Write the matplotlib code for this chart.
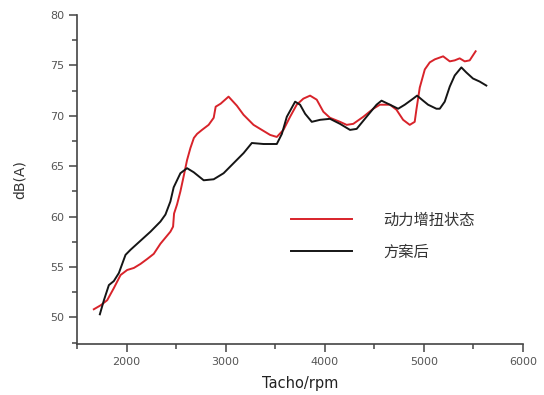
import matplotlib
matplotlib.use("Agg")
import matplotlib.pyplot as plt
from matplotlib.ticker import MultipleLocator

plt.rcParams['font.family'] = ['DejaVu Sans', 'Noto Sans CJK SC']

# Engine speed (rpm) and interior noise level dB(A)
rpm_boost = [1670, 1740, 1805, 1872, 1940, 2007, 2074, 2141, 2210, 2275, 2342, 2443,
             2470, 2480, 2510, 2544, 2577, 2611, 2645, 2680, 2712, 2762, 2829, 2880,
             2900, 2950, 3030, 3114, 3181, 3282, 3349, 3450, 3517, 3584, 3651, 3718,
             3785, 3853, 3920, 3987, 4054, 4155, 4222, 4289, 4390, 4491, 4558, 4659,
             4725, 4792, 4859, 4909, 4926, 4960, 5011, 5061, 5112, 5196, 5263, 5313,
             5363, 5414, 5464, 5524]
db_boost = [50.8, 51.2, 51.7, 52.9, 54.2, 54.7, 54.9, 55.3, 55.8, 56.3, 57.3, 58.5,
            59.0, 60.3, 61.2, 62.5, 64.0, 65.6, 66.8, 67.8, 68.2, 68.6, 69.1, 69.8,
            70.9, 71.2, 71.9, 71.0, 70.1, 69.1, 68.7, 68.1, 67.9, 68.6, 69.9, 71.1,
            71.7, 72.0, 71.6, 70.4, 69.8, 69.4, 69.1, 69.2, 69.9, 70.7, 71.1, 71.1,
            70.6, 69.6, 69.1, 69.4, 70.6, 72.8, 74.6, 75.3, 75.6, 75.9, 75.4, 75.5,
            75.7, 75.4, 75.5, 76.4]

rpm_scheme = [1731, 1772, 1822, 1872, 1923, 1990, 2040, 2141, 2242, 2342, 2393, 2443,
              2476, 2544, 2611, 2678, 2779, 2880, 2980, 3081, 3182, 3265, 3383, 3517,
              3568, 3618, 3702, 3752, 3803, 3870, 3954, 4054, 4155, 4256, 4323, 4423,
              4524, 4574, 4659, 4742, 4809, 4893, 4933, 4994, 5044, 5128, 5162, 5212,
              5263, 5313, 5380, 5430, 5497, 5564, 5632]
db_scheme = [50.3, 51.7, 53.2, 53.6, 54.4, 56.2, 56.7, 57.6, 58.5, 59.5, 60.2, 61.5,
             62.9, 64.3, 64.8, 64.4, 63.6, 63.7, 64.3, 65.3, 66.3, 67.3, 67.2, 67.2,
             68.2, 69.9, 71.4, 71.1, 70.2, 69.4, 69.6, 69.7, 69.2, 68.6, 68.7, 69.9,
             71.1, 71.5, 71.1, 70.7, 71.1, 71.7, 72.0, 71.5, 71.1, 70.7, 70.7, 71.4,
             72.9, 74.0, 74.8, 74.3, 73.7, 73.4, 73.0]

series_labels = ['动力增扭状态', '方案后']
x_ticks = [2000, 3000, 4000, 5000, 6000]
y_ticks = [50, 55, 60, 65, 70, 75, 80]

fig = plt.figure(figsize=(5.44, 3.95), dpi=100)
ax = fig.add_axes([0.1415, 0.129, 0.8195, 0.833])

ax.plot(rpm_boost, db_boost, color='#d8232a', lw=1.4, label=series_labels[0])
ax.plot(rpm_scheme, db_scheme, color='#151515', lw=1.4, label=series_labels[1])

ax.set_xlim(1500, 6000)
ax.set_ylim(47.35, 80)
ax.set_xticks(x_ticks)
ax.set_yticks(y_ticks)
ax.xaxis.set_minor_locator(MultipleLocator(500))
ax.yaxis.set_minor_locator(MultipleLocator(2.5))

for side in ('top', 'right'):
    ax.spines[side].set_visible(False)
for side in ('left', 'bottom'):
    ax.spines[side].set_color('#444444')
    ax.spines[side].set_linewidth(1.2)

ax.tick_params(which='major', length=6, width=1.1, color='#444444',
               labelsize=8, labelcolor='#555555', pad=3)
ax.tick_params(which='minor', length=3.5, width=1.1, color='#444444')

ax.set_xlabel('Tacho/rpm', fontsize=10.5, color='#222222', labelpad=7)
ax.set_ylabel('dB(A)', fontsize=10, color='#333333', labelpad=17)

leg = ax.legend(loc='upper left', bbox_to_anchor=(0.45, 0.445), frameon=False,
                handlelength=4.0, handletextpad=2.0, labelspacing=1.0,
                prop={'family': ['Noto Sans CJK SC'], 'size': 11})
for t in leg.get_texts():
    t.set_color('#333333')

fig.savefig('out.png', dpi=100)
